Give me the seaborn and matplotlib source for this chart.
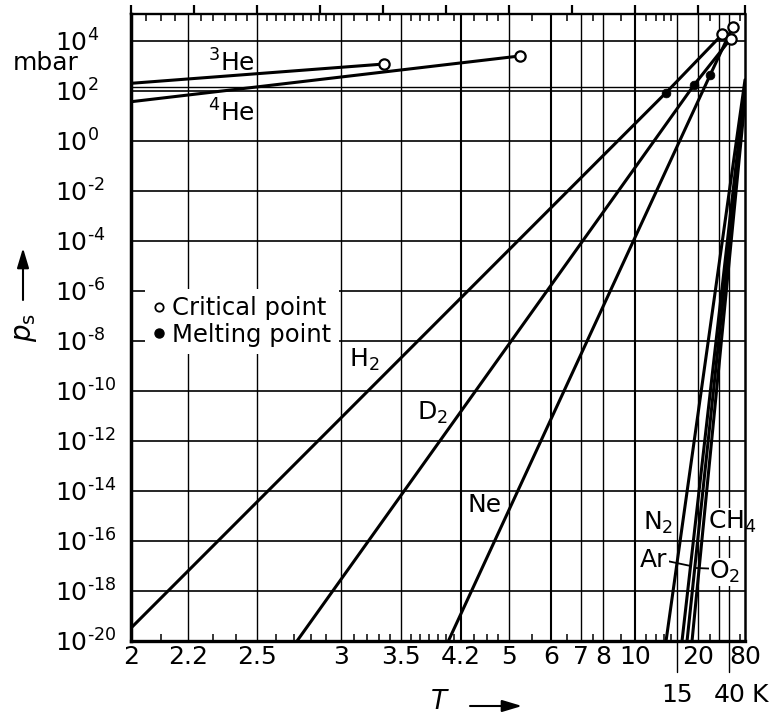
import numpy as np
import pandas as pd
import matplotlib
matplotlib.use("Agg")
import matplotlib.pyplot as plt
import seaborn as sns
from matplotlib.lines import Line2D
from matplotlib.ticker import NullLocator

# ---------------- data: temperature T (K), saturation pressure p (mbar) ----------------
he3_T = [2.0, 3.346]
he3_p = [196.0, 1161.0]
he4_T = [2.0, 5.23]
he4_p = [36.0, 2430.0]
h2_T = [2.0, 13.3, 32.8]
h2_p = [3.3e-20, 83.0, 1.79e4]
d2_T = [2.716, 18.88, 42.0]
d2_p = [1e-20, 168.0, 1.19e4]
ne_T = [4.032, 25.0, 45.0]
ne_p = [1e-20, 440.0, 3.6e4]
n2_T = [13.3, 80.0]
n2_p = [1e-20, 270.0]
ar_T = [16.0, 80.0]
ar_p = [1e-20, 155.0]
o2_T = [17.09, 80.0]
o2_p = [1e-20, 89.0]
ch4_T = [18.33, 80.0]
ch4_p = [1e-20, 43.0]

# critical points (open circles) and melting points (filled circles)
crit_T = [3.346, 5.23, 32.8, 42.0, 45.0]
crit_p = [1161.0, 2430.0, 1.79e4, 1.19e4, 3.6e4]
melt_T = [13.3, 18.88, 25.0]
melt_p = [83.0, 168.0, 440.0]

# ticks / grid
x_tick_vals = [2, 2.2, 2.5, 3, 3.5, 4.2, 5, 6, 7, 8, 10, 20, 80]
x_tick_labels = ["2", "2.2", "2.5", "3", "3.5", "4.2", "5", "6", "7", "8", "10", "20", "80"]
x_low_vals = [15, 40]
x_low_labels = ["15", "40"]
x_unit = "K"
x_grid_vals = [2.2, 2.5, 3, 3.5, 4.2, 5, 6, 7, 8, 10, 15, 20, 30, 40]
x_grid_bold = [4.2, 6, 10]
x_minor_bottom = [2.1, 2.3, 2.4, 2.6, 2.7, 2.8, 2.9, 3.1, 3.2, 3.3, 3.4, 3.6, 3.7, 3.8,
                  3.9, 4.0, 4.1, 4.4, 4.6, 4.8, 5.5, 6.5, 7.5, 9, 11, 12, 13, 14, 25, 60]
x_minor_top = [2.05, 2.1, 2.15, 2.25, 2.3, 2.35, 2.4, 2.45, 2.55, 2.6, 2.65, 2.7, 2.75,
               2.8, 2.85, 2.9, 2.95, 3.1, 3.2, 3.3, 3.4, 3.6, 3.7, 3.8, 3.9, 4.0, 4.1,
               4.4, 4.6, 4.8, 5.5, 6.5, 7.5, 9, 11, 12, 13, 14, 25, 60]
inv_T_top = [0.5, 0.45, 0.4, 0.35, 0.3, 0.25, 0.2, 0.15, 0.1, 0.05, 0.0125]
y_exponents = [4, 2, 0, -2, -4, -6, -8, -10, -12, -14, -16, -18, -20]

# curve labels
lab_text = [r"$^3$He", r"$^4$He", r"H$_2$", r"D$_2$", "Ne", r"N$_2$", r"CH$_4$"]
lab_T = [2.378, 2.378, 3.175, 3.832, 4.568, 12.26, 43.9]
lab_p = [1274.0, 12.8, 1.71e-9, 1.3e-11, 2.75e-15, 5.2e-16, 5.8e-16]
ar_lab_T, ar_lab_p, ar_ptr_p = 11.8, 1.74e-17, 1e-17
o2_lab_T, o2_lab_p, o2_ptr_p = 35.3, 5.75e-18, 10 ** -17.08

# ---------------- figure ----------------
sns.set_theme(style="white")
plt.rcParams.update({
    "font.family": ["DejaVu Sans"],
    "mathtext.fontset": "dejavusans",
    "axes.edgecolor": "black",
    "text.color": "black",
    "xtick.color": "black",
    "ytick.color": "black",
    "axes.labelcolor": "black",
})

W, H = 775, 715
L, R, TOP, BOT = 131, 745, 14, 641
fig = plt.figure(figsize=(W / 100, H / 100), dpi=100)
ax = fig.add_axes([L / W, 1 - BOT / H, (R - L) / W, (BOT - TOP) / H])


def fwd(t):
    t = np.asarray(t, dtype=float)
    with np.errstate(divide="ignore", invalid="ignore"):
        return -1.0 / t


def inv(u):
    u = np.asarray(u, dtype=float)
    with np.errstate(divide="ignore", invalid="ignore"):
        return -1.0 / u


ax.set_xscale("function", functions=(fwd, inv))
ax.set_yscale("log")

curves = [("3He", he3_T, he3_p), ("4He", he4_T, he4_p), ("H2", h2_T, h2_p),
          ("D2", d2_T, d2_p), ("Ne", ne_T, ne_p), ("N2", n2_T, n2_p),
          ("Ar", ar_T, ar_p), ("O2", o2_T, o2_p), ("CH4", ch4_T, ch4_p)]
df = pd.concat([pd.DataFrame({"gas": n, "T": t, "p": p}) for n, t, p in curves],
               ignore_index=True)

sns.lineplot(data=df, x="T", y="p", units="gas", estimator=None, sort=False,
             color="black", linewidth=2.2, ax=ax, legend=False, zorder=3)
sns.scatterplot(x=crit_T, y=crit_p, ax=ax, marker="o", s=55, color="white",
                edgecolor="black", linewidth=1.6, zorder=5, legend=False, clip_on=False)
sns.scatterplot(x=melt_T, y=melt_p, ax=ax, marker="o", s=40, color="black",
                edgecolor="black", linewidth=0.5, zorder=5, legend=False)

ax.set_xlim(2, 80)
ax.set_ylim(1e-20, 10 ** 5.063)
ax.set_xlabel("")
ax.set_ylabel("")

# grid lines
for e in y_exponents[:-1]:
    ax.axhline(10.0 ** e, color="black", lw=1.2, zorder=1)
ax.axhline(10 ** 2.13, color="black", lw=1.0, zorder=1)
for t in x_grid_vals:
    lw = 1.5 if t in x_grid_bold else 1.0
    ymin = -0.0494 if t in x_low_vals else 0.0
    ax.axvline(t, ymin=ymin, ymax=1, color="black", lw=lw, zorder=1, clip_on=False)

# y ticks
ax.set_yticks([10.0 ** e for e in y_exponents],
              ["$10^{%s}$" % (str(e) if e >= 0 else "\u2010" + str(-e)) for e in y_exponents],
              ha="left")
ax.yaxis.set_minor_locator(NullLocator())
ax.tick_params(axis="y", which="both", length=0, pad=54.7, labelsize=18)

# x ticks
ax.set_xticks(x_tick_vals, x_tick_labels)
ax.set_xticks(x_minor_bottom, minor=True)
ax.tick_params(axis="x", which="major", length=0, pad=3, labelsize=18)
ax.tick_params(axis="x", which="minor", direction="in", length=5, width=1.1,
               bottom=True, top=False)
trans = ax.get_xaxis_transform()
for v, s in zip(x_low_vals, x_low_labels):
    ax.text(v, -0.086, s, transform=trans, ha="center", va="center", fontsize=18)
ax.annotate(x_unit, xy=(x_low_vals[1], -0.086), xycoords=trans, xytext=(22, 0),
            textcoords="offset points", ha="center", va="center", fontsize=18)

# top ticks (uniform in 1/T)
ax2 = ax.twiny()
ax2.set_xlim(0.5, 0.0125)
ax2.set_xticks(inv_T_top)
ax2.set_xticks([1.0 / t for t in x_minor_top], minor=True)
ax2.tick_params(axis="x", which="major", direction="out", length=6.5, width=1.6,
                top=True, bottom=False, labeltop=False, labelbottom=False)
ax2.tick_params(axis="x", which="minor", direction="in", length=5, width=1.1,
                top=True, bottom=False)
for sp in ax2.spines.values():
    sp.set_visible(False)

for side, lw in [("left", 2.5), ("bottom", 2.4), ("top", 1.7), ("right", 1.8)]:
    ax.spines[side].set_linewidth(lw)
    ax.spines[side].set_color("black")
    ax.spines[side].set_zorder(6)

# curve labels
box = dict(facecolor="white", edgecolor="none", pad=0.5)
for s, t, p in zip(lab_text, lab_T, lab_p):
    ax.text(t, p, s, ha="center", va="center", fontsize=18, zorder=2, bbox=box)


def T_on_line(Ts, ps, p):
    u = 1.0 / np.asarray(Ts, dtype=float)
    lp = np.log10(np.asarray(ps, dtype=float))
    return 1.0 / np.interp(np.log10(p), lp, u)


ax.annotate("Ar", xy=(T_on_line(ar_T, ar_p, ar_ptr_p), ar_ptr_p),
            xytext=(ar_lab_T, ar_lab_p), ha="center", va="center", fontsize=18,
            zorder=4, bbox=box,
            arrowprops=dict(arrowstyle="-", lw=1.3, color="black", shrinkA=0,
                            shrinkB=0, relpos=(1.0, 0.45)))
ax.annotate(r"O$_2$", xy=(T_on_line(o2_T, o2_p, o2_ptr_p), o2_ptr_p),
            xytext=(o2_lab_T, o2_lab_p), ha="center", va="center", fontsize=18,
            zorder=4, bbox=box,
            arrowprops=dict(arrowstyle="-", lw=1.3, color="black", shrinkA=0,
                            shrinkB=0, relpos=(0.0, 0.63)))

# legend
handles = [Line2D([], [], ls="none", marker="o", ms=6, mfc="white", mec="black", mew=1.3),
           Line2D([], [], ls="none", marker="o", ms=6.5, mfc="black", mec="black")]
leg = ax.legend(handles, ["Critical point", "Melting point"], loc="upper left",
                bbox_to_anchor=(0.022, 0.5614), borderaxespad=0, frameon=True,
                fancybox=False, framealpha=1, facecolor="white", edgecolor="none",
                fontsize=17.5, handlelength=0.6, handletextpad=0.25, borderpad=0.3,
                labelspacing=0.1)
leg.set_zorder(4)

# axis titles
fig.text(13 / W, 1 - 63 / H, "mbar", ha="left", va="center", fontsize=18)
fig.text(25 / W, 1 - 328 / H, r"$p_\mathrm{s}$", rotation=90, ha="center",
         va="center", fontsize=20)
ax.annotate("", xy=(23, H - 248), xycoords="figure pixels", xytext=(23, H - 300),
            textcoords="figure pixels",
            arrowprops=dict(arrowstyle="-|>,head_length=1.0,head_width=0.3", lw=1.5,
                            color="black", shrinkA=0, shrinkB=0))
fig.text(440 / W, 1 - 702 / H, "$T$", ha="center", va="center", fontsize=19)
ax.annotate("", xy=(522, H - 706), xycoords="figure pixels", xytext=(470, H - 706),
            textcoords="figure pixels",
            arrowprops=dict(arrowstyle="-|>,head_length=1.0,head_width=0.3", lw=1.5,
                            color="black", shrinkA=0, shrinkB=0))

fig.savefig("out.png", dpi=100)
